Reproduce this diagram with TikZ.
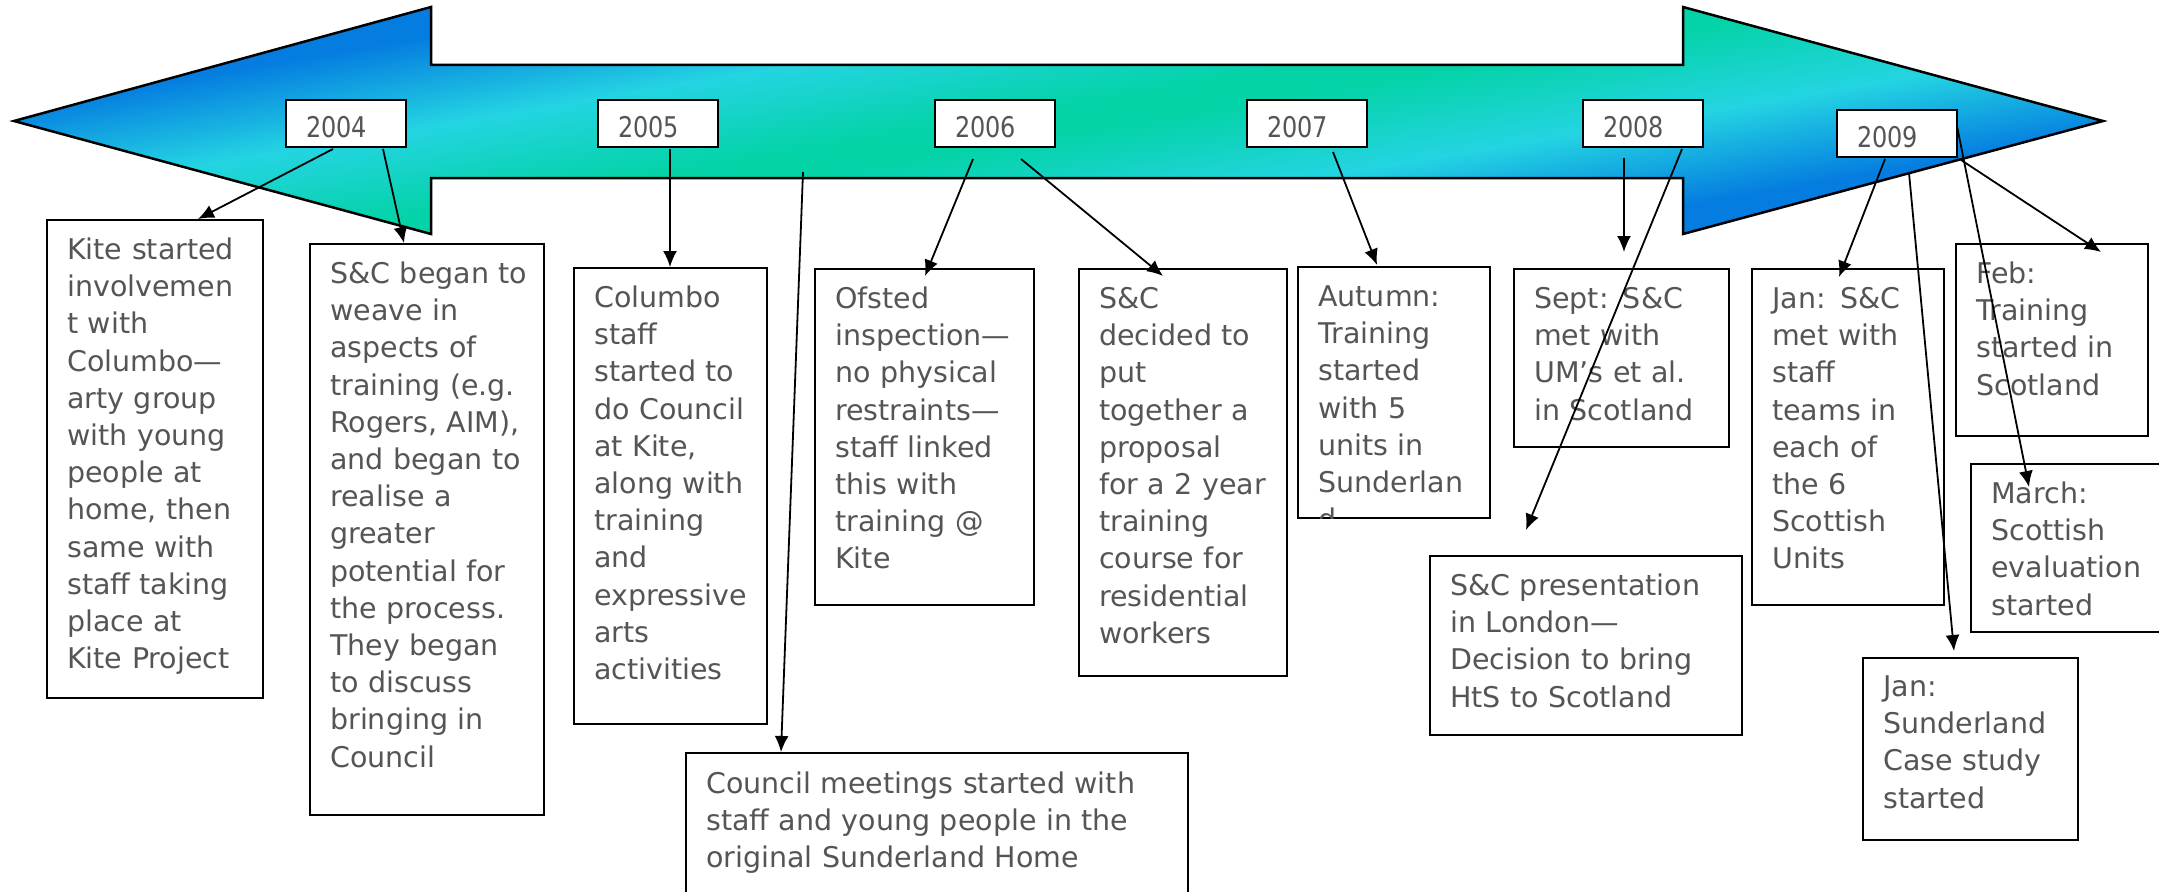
\documentclass[tikz,border=0pt]{standalone}
\usepackage{fontspec}
\setmainfont{DejaVu Sans}
\newfontfamily\yearfont{DejaVu Sans}[FakeStretch=0.84]
\usetikzlibrary{arrows.meta}
\definecolor{gblue}{RGB}{4,124,224}
\definecolor{gcyan}{RGB}{36,212,226}
\definecolor{ggreen}{RGB}{4,211,168}
\definecolor{tgray}{RGB}{85,85,85}
\pgfdeclareverticalshading{arrowgrad}{100bp}{color(0bp)=(gblue); color(31bp)=(gblue); color(40bp)=(gcyan); color(48.5bp)=(ggreen); color(51.5bp)=(ggreen); color(60bp)=(gcyan); color(69bp)=(gblue); color(100bp)=(gblue)}
\tikzset{
  tbox/.style={draw=black, line width=2.2pt, fill=white, inner sep=0pt, outer sep=0pt, anchor=north west},
  ybox/.style={draw=black, line width=2.2pt, fill=white, inner sep=0pt, outer sep=0pt, anchor=north west, minimum width=120pt, minimum height=47pt},
  ttext/.style={anchor=base west, inner sep=0pt, text width=600pt, align=left, text=tgray, font=\fontsize{28.5pt}{37.2pt}\selectfont},
  ytext/.style={anchor=base west, inner sep=0pt, text=tgray, font=\yearfont\fontsize{28.5pt}{34pt}\selectfont},
  conn/.style={line width=1.8pt, -{Latex[length=16pt,width=14pt]}},
  bigarrow/.style={draw=black, line width=2.5pt, shading=arrowgrad, shading angle=9.6, line join=miter}
}
\begin{document}
\begin{tikzpicture}[x=1pt,y=-1pt]
\useasboundingbox (0,0) rectangle (2159,891);
% timeline double arrow
\draw[bigarrow] (14,121) -- (431,7) -- (431,65) -- (1683,65) -- (1683,7) -- (2103,121)
  -- (1683,234) -- (1683,178) -- (431,178) -- (431,234) -- cycle;
% year boxes
\node[ybox] (y04) at (286,100) {};
\node[ybox] (y05) at (598,100) {};
\node[ybox] (y06) at (935,100) {};
\node[ybox] (y07) at (1247,100) {};
\node[ybox] (y08) at (1583,100) {};
\node[ybox] (y09) at (1837,110) {};
\foreach \n/\t in {y04/2004,y05/2005,y06/2006,y07/2007,y08/2008,y09/2009}
  \node[ytext] (\n t) at ([xshift=20pt,yshift=-37pt]\n.north west) {\t};
% text boxes
\node[tbox, minimum width=216pt, minimum height=478pt] (kite) at (47,220) {};
\node[ttext] (kitet) at ([xshift=20pt,yshift=-39.5pt]kite.north west) {Kite started\\involvemen\\t with\\Columbo—\\arty group\\with young\\people at\\home, then\\same with\\staff taking\\place at\\Kite Project};
\node[tbox, minimum width=234pt, minimum height=571pt] (scb) at (310,244) {};
\node[ttext] (scbt) at ([xshift=20pt,yshift=-39.5pt]scb.north west) {S\&C began to\\weave in\\aspects of\\training (e.g.\\Rogers, AIM),\\and began to\\realise a\\greater\\potential for\\the process.\\They began\\to discuss\\bringing in\\Council};
\node[tbox, minimum width=193pt, minimum height=456pt] (colu) at (574,268) {};
\node[ttext] (colut) at ([xshift=20pt,yshift=-39.5pt]colu.north west) {Columbo\\staff\\started to\\do Council\\at Kite,\\along with\\training\\and\\expressive\\arts\\activities};
\node[tbox, minimum width=219pt, minimum height=336pt] (ofst) at (815,269) {};
\node[ttext] (ofstt) at ([xshift=20pt,yshift=-39.5pt]ofst.north west) {Ofsted\\inspection—\\no physical\\restraints—\\staff linked\\this with\\training @\\Kite};
\node[tbox, minimum width=208pt, minimum height=407pt] (scd) at (1079,269) {};
\node[ttext] (scdt) at ([xshift=20pt,yshift=-39.5pt]scd.north west) {S\&C\\decided to\\put\\together a\\proposal\\for a 2 year\\training\\course for\\residential\\workers};
\node[tbox, minimum width=192pt, minimum height=251pt] (autu) at (1298,267) {};
\begin{scope}
\clip (autu.north west) rectangle (autu.south east);
\node[ttext] (autut) at ([xshift=20pt,yshift=-39.5pt]autu.north west) {Autumn:\\Training\\started\\with 5\\units in\\Sunderlan\\d};
\end{scope}
\node[tbox, minimum width=215pt, minimum height=178pt] (sept) at (1514,269) {};
\node[ttext] (septt) at ([xshift=20pt,yshift=-39.5pt]sept.north west) {Sept: S\&C\\met with\\UM’s et al.\\in Scotland};
\node[tbox, minimum width=192pt, minimum height=336pt] (jans) at (1752,269) {};
\node[ttext] (janst) at ([xshift=20pt,yshift=-39.5pt]jans.north west) {Jan: S\&C\\met with\\staff\\teams in\\each of\\the 6\\Scottish\\Units};
\node[tbox, minimum width=192pt, minimum height=192pt] (feb) at (1956,244) {};
\node[ttext] (febt) at ([xshift=20pt,yshift=-39.5pt]feb.north west) {Feb:\\Training\\started in\\Scotland};
\node[tbox, minimum width=250pt, minimum height=168pt] (march) at (1971,464) {};
\node[ttext] (marcht) at ([xshift=20pt,yshift=-39.5pt]march.north west) {March:\\Scottish\\evaluation\\started};
\node[tbox, minimum width=215pt, minimum height=182pt] (jsun) at (1863,658) {};
\node[ttext] (jsunt) at ([xshift=20pt,yshift=-38.5pt]jsun.north west) {Jan:\\Sunderland\\Case study\\started};
\node[tbox, minimum width=312pt, minimum height=179pt] (pres) at (1430,556) {};
\node[ttext] (prest) at ([xshift=20pt,yshift=-39.5pt]pres.north west) {S\&C presentation\\in London—\\Decision to bring\\HtS to Scotland};
\node[tbox, minimum width=502pt, minimum height=180pt] (counc) at (686,753) {};
\node[ttext] (councT) at ([xshift=20pt,yshift=-40pt]counc.north west) {Council meetings started with\\staff and young people in the\\original Sunderland Home};
% connector end points
\coordinate (a1) at (333,149);  \coordinate (b1) at (198,219);
\coordinate (a2) at (383,149);  \coordinate (b2) at (404,243);
\coordinate (a3) at (670,149);  \coordinate (b3) at (670,267);
\coordinate (a4) at (803,172);  \coordinate (b4) at (781,752);
\coordinate (a5) at (973,159);  \coordinate (b5) at (925,276);
\coordinate (a6) at (1021,159); \coordinate (b6) at (1163,276);
\coordinate (a7) at (1333,152); \coordinate (b7) at (1377,265);
\coordinate (a8) at (1624,158); \coordinate (b8) at (1624,252);
\coordinate (a9) at (1682,149); \coordinate (b9) at (1526,530);
\coordinate (a10) at (1885,159); \coordinate (b10) at (1839,277);
\coordinate (a11) at (1909,173); \coordinate (b11) at (1954,651);
\coordinate (a12) at (1957,126); \coordinate (b12) at (2029,487);
\coordinate (a13) at (1961,160); \coordinate (b13) at (2101,252);
\foreach \i in {1,...,13} \draw[conn] (a\i) -- (b\i);
\end{tikzpicture}
\end{document}
